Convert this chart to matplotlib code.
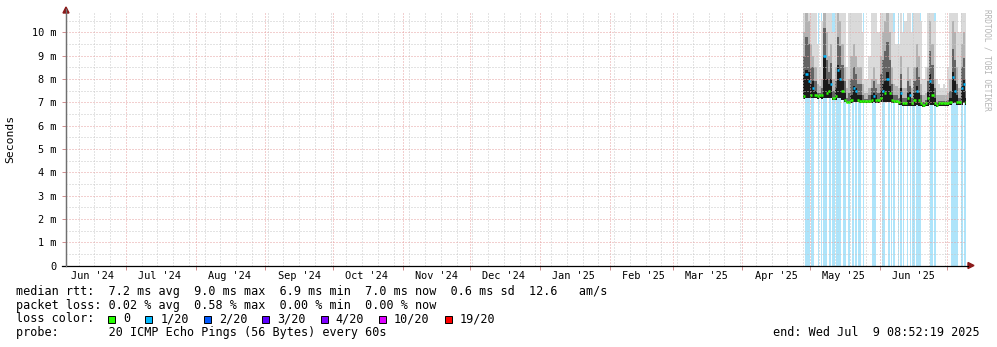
import matplotlib
matplotlib.use("Agg")
import matplotlib.pyplot as plt
import matplotlib.dates as mdates
from matplotlib.patches import Polygon
from matplotlib.lines import Line2D
from datetime import datetime, timedelta

# ---------------- data ----------------
end_time = datetime(2025, 7, 9, 8, 52, 19)
span_days = 400
data_start = datetime(2025, 4, 28)

# daily median RTT (ms)
median_ms = [
    7.25, 8.20, 7.90, 7.30, 7.60, 7.30, 7.25, 7.30, 7.30, 9.00,
    7.40, 7.50, 7.80, 7.20, 7.25, 8.40, 8.00, 7.50, 7.10, 7.00,
    7.00, 7.10, 7.60, 7.50, 7.10, 7.05, 7.05, 7.05, 7.05, 7.05,
    7.10, 7.25, 7.10, 7.10, 7.20, 7.50, 7.40, 8.00, 7.40, 7.10,
    7.05, 7.05, 7.00, 7.40, 6.95, 6.95, 7.20, 7.30, 6.95, 7.10,
    7.50, 7.10, 6.95, 6.90, 6.95, 7.20, 7.90, 7.30, 6.95, 6.90,
    6.95, 6.95, 6.95, 6.95, 6.95, 7.00, 8.10, 7.50, 7.00, 7.00,
    7.60, 7.80, 7.00]
# lost pings (of 20) of the median sample, per day
median_loss = [
    0, 1, 1, 0, 1, 0, 0, 0, 0, 1,
    0, 0, 1, 0, 0, 1, 1, 0, 0, 0,
    0, 0, 1, 1, 0, 0, 0, 0, 0, 0,
    0, 1, 0, 0, 0, 1, 0, 1, 0, 0,
    0, 0, 0, 1, 0, 0, 0, 1, 0, 0,
    1, 0, 0, 0, 0, 0, 1, 0, 0, 0,
    0, 0, 0, 0, 0, 0, 1, 1, 0, 0,
    1, 1, 0]
# smoke: lowest ping, dense core top, dark top, mid top, highest ping (ms)
smoke_lo = [
    7.15, 7.20, 7.20, 7.20, 7.20, 7.20, 7.15, 7.20, 7.15, 7.20,
    7.20, 7.20, 7.20, 7.10, 7.10, 7.20, 7.20, 7.10, 7.00, 6.95,
    6.95, 6.95, 7.00, 7.00, 7.00, 6.95, 6.95, 6.95, 6.95, 6.95,
    6.95, 7.00, 6.95, 6.95, 7.00, 7.00, 7.00, 7.00, 7.00, 6.95,
    6.95, 6.95, 6.90, 6.90, 6.85, 6.85, 6.85, 6.85, 6.85, 6.85,
    6.90, 6.85, 6.85, 6.80, 6.85, 6.85, 6.90, 6.90, 6.85, 6.80,
    6.85, 6.85, 6.85, 6.85, 6.85, 6.90, 6.95, 6.95, 6.90, 6.90,
    6.90, 6.95, 6.90]
smoke_core = [
    8.20, 8.40, 8.30, 7.80, 7.90, 7.50, 7.25, 7.30, 7.30, 9.00,
    8.00, 7.80, 8.00, 7.20, 7.60, 8.60, 8.40, 7.90, 7.40, 7.00,
    7.00, 7.30, 7.70, 7.60, 7.30, 7.30, 7.05, 7.05, 7.05, 7.05,
    7.30, 7.40, 7.30, 7.10, 7.50, 7.80, 7.90, 8.30, 7.70, 7.30,
    7.05, 7.05, 7.00, 7.60, 6.95, 6.95, 7.40, 7.50, 6.95, 7.40,
    7.70, 7.40, 6.95, 6.90, 6.95, 7.50, 8.20, 7.80, 7.20, 6.90,
    6.95, 6.95, 6.95, 6.95, 6.95, 7.20, 8.30, 7.90, 7.30, 7.00,
    7.70, 8.00, 7.20]
smoke_dark = [
    9.0, 9.8, 9.5, 8.5, 8.5, 7.9, 7.4, 7.4, 7.6, 10.2,
    8.8, 8.3, 8.7, 7.5, 7.9, 9.8, 9.4, 8.6, 7.9, 7.2,
    7.4, 8.0, 8.5, 8.2, 7.8, 7.8, 7.3, 7.15, 7.15, 7.3,
    7.6, 7.9, 7.6, 7.4, 8.2, 8.8, 9.2, 9.6, 8.8, 7.8,
    7.3, 7.3, 7.2, 8.2, 7.2, 7.2, 7.9, 7.7, 7.2, 7.9,
    8.5, 8.1, 7.3, 7.0, 7.1, 7.9, 9.2, 8.6, 7.6, 7.0,
    7.05, 7.05, 7.05, 7.05, 7.1, 7.5, 9.3, 8.8, 7.8, 7.2,
    8.5, 8.9, 7.5]
smoke_mid = [
    10.0, 11.0, 10.5, 9.5, 9.0, 8.5, 7.8, 7.7, 8.0, 11.5,
    10.0, 9.0, 9.5, 8.0, 8.5, 11.0, 10.5, 9.5, 8.5, 7.6,
    8.0, 9.0, 9.5, 9.0, 8.5, 8.5, 7.8, 7.4, 7.4, 7.6,
    8.0, 8.5, 8.0, 7.8, 9.0, 10.0, 10.5, 11.0, 10.0, 8.5,
    7.8, 7.7, 7.6, 9.0, 7.6, 7.6, 8.5, 8.0, 7.6, 8.5,
    9.5, 9.0, 7.8, 7.3, 7.4, 8.5, 10.5, 9.5, 8.0, 7.3,
    7.3, 7.3, 7.3, 7.3, 7.4, 8.0, 10.5, 10.0, 8.5, 7.6,
    9.5, 10.0, 8.0]
smoke_hi = [
    11.5, 11.5, 11.5, 11.5, 11.5, 11.0, 9.5, 8.5, 10.5, 11.5,
    11.5, 11.5, 11.5, 10.0, 11.5, 11.5, 11.5, 11.5, 11.5, 8.5,
    11.5, 11.5, 11.5, 11.5, 11.5, 11.5, 10.0, 8.0, 8.0, 9.0,
    11.5, 11.5, 11.0, 10.0, 11.5, 11.5, 11.5, 11.5, 11.5, 11.5,
    10.0, 9.5, 9.5, 11.5, 10.0, 10.5, 11.5, 11.0, 10.0, 11.5,
    11.5, 11.5, 10.5, 8.0, 8.5, 11.5, 11.5, 11.5, 10.5, 8.0,
    7.8, 7.6, 7.8, 7.6, 8.5, 11.0, 11.5, 11.5, 11.5, 10.0,
    11.5, 11.5, 11.0]
# packet loss per 12-hour bin (lost pings of 20)
loss_12h = [
    0, 0, 1, 1, 1, 1, 0, 1, 1, 1,
    0, 0, 0, 1, 0, 0, 1, 0, 1, 1,
    1, 0, 0, 1, 1, 0, 1, 1, 0, 1,
    1, 1, 1, 1, 0, 1, 1, 1, 0, 0,
    1, 1, 0, 1, 1, 0, 1, 1, 0, 1,
    1, 0, 0, 1, 0, 0, 0, 0, 0, 0,
    0, 1, 1, 1, 1, 0, 0, 0, 0, 0,
    1, 1, 1, 0, 0, 1, 1, 0, 1, 0,
    1, 1, 0, 0, 1, 0, 1, 1, 0, 1,
    0, 0, 1, 0, 0, 1, 0, 1, 1, 0,
    1, 1, 1, 1, 1, 0, 0, 0, 0, 0,
    0, 0, 0, 1, 1, 0, 1, 1, 0, 0,
    0, 0, 0, 0, 0, 0, 0, 0, 0, 0,
    0, 1, 1, 1, 1, 1, 1, 1, 0, 0,
    1, 1, 0, 1, 1]

loss_levels = ["0", "1/20", "2/20", "3/20", "4/20", "10/20", "19/20"]
loss_colors = ["#26ff00", "#00b8ff", "#0059ff", "#5e00ff", "#7e00ff", "#dd00ff", "#ff0000"]

legend_lines = [
    "median rtt:  7.2 ms avg  9.0 ms max  6.9 ms min  7.0 ms now  0.6 ms sd  12.6   am/s",
    "packet loss: 0.02 % avg  0.58 % max  0.00 % min  0.00 % now",
]
probe_text = "probe:       20 ICMP Echo Pings (56 Bytes) every 60s"
end_text = "end: Wed Jul  9 08:52:19 2025"

# ---------------- figure ----------------
W, H = 997, 347
MONO = "DejaVu Sans Mono"
plt.rcParams["font.family"] = [MONO, "DejaVu Sans"]
fig = plt.figure(figsize=(W / 100, H / 100), dpi=100)
fig.patch.set_facecolor("white")

def fx(x):
    return x / W

def fy(y):
    return 1 - y / H

L, R, T, B = 66.0, 966.0, 13.0, 265.5
ax = fig.add_axes([fx(L), fy(B), (R - L) / W, (B - T) / H])
YMAX = 10.83

start_time = end_time - timedelta(days=span_days)
x0 = mdates.date2num(start_time)
x1 = mdates.date2num(end_time)
d0 = mdates.date2num(data_start)

n = len(median_ms)
days = [d0 + i for i in range(n)]

# loss background
for k, lv in enumerate(loss_12h):
    if lv > 0:
        ax.bar(d0 + 0.5 * k, YMAX, bottom=0, width=0.5, align="edge",
               color="#aee4fa", linewidth=0, antialiased=False, zorder=1)

# smoke
def layer(lo, hi, color):
    ax.bar(days, [h - l for l, h in zip(lo, hi)], bottom=lo, width=1.0,
           align="edge", color=color, linewidth=0, antialiased=False, zorder=1.2)

layer(smoke_lo, smoke_hi, "#dadada")
layer(smoke_lo, smoke_mid, "#b2b2b2")
layer(smoke_lo, smoke_dark, "#646464")
layer(smoke_lo, smoke_core, "#1a1a1a")

# median line coloured by loss
ax.hlines(median_ms, days, [d + 1 for d in days],
          colors=[loss_colors[min(l, 6)] for l in median_loss],
          linewidth=1.8, zorder=3)

ax.set_xlim(x0, x1)
ax.set_ylim(0, YMAX)

# ticks / grid
month_starts = []
m = datetime(start_time.year, start_time.month, 1)
while m <= end_time:
    if m >= start_time:
        month_starts.append(m)
    m = datetime(m.year + m.month // 12, m.month % 12 + 1, 1)
mondays = []
m = datetime(start_time.year, start_time.month, start_time.day)
while m.weekday() != 0:
    m += timedelta(days=1)
while m <= end_time:
    mondays.append(m)
    m += timedelta(days=7)

ax.set_xticks([mdates.date2num(m) for m in month_starts])
ax.set_xticks([mdates.date2num(m) for m in mondays], minor=True)
ax.set_xticklabels([])
ax.set_yticks(range(0, 11))
ax.set_yticks([i + 0.5 for i in range(0, 11)], minor=True)
ax.set_yticklabels(["0"] + [f"{i} m" for i in range(1, 11)])

ax.set_axisbelow(False)
dot = (0, (1, 2))
ax.grid(which="minor", color="#c8c8c8", linestyle=dot, linewidth=0.72)
ax.grid(which="major", color="#e6a0a0", linestyle=dot, linewidth=0.72)
ax.tick_params(axis="y", which="major", length=3, width=0.72, color="#d09090",
               pad=4, labelsize=7.4, labelcolor="black")
ax.tick_params(axis="y", which="minor", length=0)
ax.tick_params(axis="x", which="major", length=3, width=0.72, color="#d09090",
               direction="out")
ax.tick_params(axis="x", which="minor", length=0)

for s in ["top", "right"]:
    ax.spines[s].set_visible(False)
ax.spines["left"].set_color("#707070")
ax.spines["left"].set_linewidth(0.9)
ax.spines["bottom"].set_visible(False)

# axis lines & arrows
fig.add_artist(Line2D([fx(62), fx(968)], [fy(B), fy(B)], color="black", lw=0.9))
fig.add_artist(Line2D([fx(L), fx(L)], [fy(B), fy(9)], color="#707070", lw=0.9))
fig.add_artist(Polygon([(fx(968), fy(B - 3)), (fx(974), fy(B)), (fx(968), fy(B + 3))],
                       closed=True, color="#8b1a1a", transform=fig.transFigure))
fig.add_artist(Polygon([(fx(L - 3), fy(13)), (fx(L), fy(7)), (fx(L + 3), fy(13))],
                       closed=True, color="#8b1a1a", transform=fig.transFigure))

# month labels (centered mid-month)
for m in [datetime(start_time.year, start_time.month, 1)] + month_starts:
    c = mdates.date2num(m) + 15
    if x0 <= c <= x1:
        ax.text(c, -0.02, m.strftime("%b '%y"), transform=ax.get_xaxis_transform(),
                ha="center", va="top", fontsize=7.4)

# axis title & watermark
fig.text(fx(10), fy(139), "Seconds", rotation=90, ha="center", va="center", fontsize=8.2)
fig.text(fx(987), fy(60), "RRDTOOL / TOBI OETIKER", rotation=270, ha="center",
         va="center", fontsize=5.6, color="#b4b4b4")

# legend
CH = 7.1
rows = [291.5, 305, 319, 332.5]
fig.text(fx(16), fy(rows[0]), legend_lines[0], ha="left", va="center", fontsize=8.5)
fig.text(fx(16), fy(rows[1]), legend_lines[1], ha="left", va="center", fontsize=8.5)
fig.text(fx(16), fy(rows[2]), "loss color:", ha="left", va="center", fontsize=8.5)
bx = 16 + 13 * CH
for lab, col in zip(loss_levels, loss_colors):
    fig.add_artist(Polygon([(fx(bx), fy(rows[2] - 3.5)), (fx(bx + 7), fy(rows[2] - 3.5)),
                            (fx(bx + 7), fy(rows[2] + 3.5)), (fx(bx), fy(rows[2] + 3.5))],
                           closed=True, facecolor=col, edgecolor="black", lw=0.7,
                           transform=fig.transFigure))
    tx = bx + 15
    fig.text(fx(tx), fy(rows[2]), lab, ha="left", va="center", fontsize=8.5)
    bx = tx + len(lab) * CH + 15
fig.text(fx(16), fy(rows[3]), probe_text, ha="left", va="center", fontsize=8.5)
fig.text(fx(980), fy(rows[3]), end_text, ha="right", va="center", fontsize=8.5)

fig.savefig("out.png", dpi=100)
